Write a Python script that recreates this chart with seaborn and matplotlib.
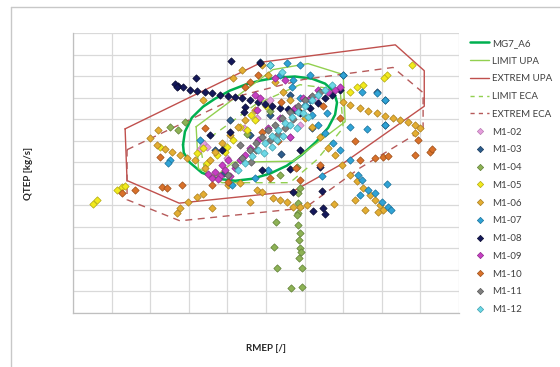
import matplotlib
matplotlib.use("Agg")
import matplotlib.pyplot as plt
from matplotlib.lines import Line2D
import pandas as pd
import seaborn as sns

# boundary curves (grid units, axes have no tick labels)
mg7_x = [2.85, 2.9, 3.08, 3.37, 3.68, 4.07, 4.46, 4.84, 5.28, 5.75, 6.19, 6.53, 6.76, 6.84, 6.79,
         6.61, 6.3, 5.93, 5.54, 5.1, 4.64, 4.2, 3.76, 3.34, 3.03, 2.87, 2.85]
mg7_y = [7.81, 8.42, 9.07, 9.58, 9.95, 10.33, 10.6, 10.79, 10.93, 10.98, 10.88, 10.65, 10.28, 9.77, 9.21,
         8.6, 7.95, 7.35, 6.84, 6.47, 6.23, 6.14, 6.23, 6.51, 6.98, 7.44, 7.81]

limit_upa_x = [3.19, 5.18, 6.09, 7.0, 7.05, 5.7, 4.15, 3.7, 3.25, 3.19]
limit_upa_y = [8.65, 11.3, 11.58, 11.07, 8.88, 7.05, 7.0, 6.35, 6.7, 8.65]

extrem_upa_x = [1.35, 4.9, 8.35, 9.1, 9.1, 7.0, 5.7, 2.75, 1.4, 1.35]
extrem_upa_y = [8.55, 11.65, 12.45, 11.25, 9.6, 6.95, 5.65, 5.1, 6.15, 8.55]

limit_eca_x = [3.29, 4.72, 5.88, 6.92, 7.0, 6.32, 5.62, 3.86, 3.42, 3.29]
limit_eca_y = [7.81, 9.67, 10.6, 10.37, 8.6, 7.12, 6.05, 6.05, 6.56, 7.81]

extrem_eca_x = [1.4, 4.33, 5.96, 8.29, 9.07, 9.07, 7.44, 6.01, 2.77, 1.4, 1.4]
extrem_eca_y = [7.58, 10.09, 10.84, 11.4, 10.23, 8.51, 6.74, 4.88, 4.28, 5.26, 7.58]

# measured points per run
m1_02_x = [3.37, 3.47, 4.77, 4.43, 5.62, 5.88, 5.1, 3.3, 4.0, 6.3]
m1_02_y = [7.91, 7.72, 9.07, 8.6, 8.19, 8.74, 9.91, 7.6, 7.2, 9.9]

m1_03_x = [4.84, 7.0, 7.88, 8.08, 8.08, 4.07, 5.1, 4.59, 5.62, 3.68, 6.2, 5.4, 3.9]
m1_03_y = [11.67, 11.07, 10.28, 9.91, 8.74, 8.98, 9.21, 8.28, 10.14, 7.58, 8.6, 7.4, 6.5]

m1_04_x = [5.83, 5.83, 5.88, 5.88, 5.91, 5.85, 5.93, 5.93, 5.65, 5.28, 5.21, 5.26, 5.8, 5.85, 5.83,
           5.83, 5.88, 2.51, 2.9, 2.72, 5.8, 5.36, 3.9, 4.5, 5.1]
m1_04_y = [5.58, 4.65, 3.72, 3.02, 2.84, 2.56, 2.09, 1.21, 1.16, 2.09, 3.07, 4.23, 4.56, 3.4, 4.09,
           5.12, 5.81, 8.65, 8.88, 8.51, 6.79, 6.42, 7.6, 8.3, 9.4]

m1_05_x = [0.52, 0.62, 1.14, 1.27, 1.35, 8.78, 8.13, 8.05, 7.18, 7.36, 7.51, 2.25, 3.47, 3.73, 3.99,
           4.15, 4.33, 4.51, 3.21, 3.37, 4.72, 3.94, 4.6, 5.0]
m1_05_y = [5.07, 5.26, 5.72, 5.86, 5.91, 11.53, 11.07, 10.93, 10.28, 10.47, 10.6, 7.72, 6.98, 7.35, 7.72,
           8.05, 8.65, 8.51, 7.44, 7.67, 8.98, 7.49, 9.2, 9.6]

m1_06_x = [4.9, 5.05, 5.23, 5.44, 5.62, 5.83, 6.01, 6.19, 6.4, 6.61, 6.79, 6.97, 7.18, 7.36, 7.51, 7.69,
           7.82, 7.95, 8.03, 7.9, 7.31, 7.56,
           7.0, 7.18, 7.44, 7.64, 7.88, 8.08, 8.29, 8.47, 8.68, 8.86, 8.99, 8.86,
           1.99, 2.18, 2.38, 2.56, 2.77, 2.95, 3.16,
           2.69, 2.77, 2.98, 3.21, 3.37, 3.6, 4.59, 4.77, 4.9, 5.18, 5.36, 5.54, 5.7, 5.88, 6.06, 6.76,
           4.33, 4.02,
           3.37, 4.15, 4.38, 2.2,
           3.42, 3.55, 3.68, 3.86, 4.07, 4.27, 4.46, 4.72]
m1_06_y = [11.53, 11.07, 10.74, 10.28, 9.91, 9.44, 9.07, 8.65, 8.19, 7.67, 7.35, 6.88, 6.42, 6.14, 5.81,
           5.49, 5.26, 5.02, 4.79, 4.7, 5.26, 4.79,
           9.81, 9.67, 9.53, 9.4, 9.3, 9.16, 9.07, 8.98, 8.88, 8.74, 8.6, 8.37,
           8.14, 7.81, 7.63, 7.49, 7.35, 7.21, 7.12,
           4.65, 4.88, 5.16, 5.4, 5.53, 4.88, 5.16, 5.72, 5.63, 5.35, 5.26, 5.16, 4.93, 4.93, 5.02, 5.07,
           6.05, 5.95,
           9.91, 10.93, 11.3, 8.51,
           6.74, 7.12, 7.49, 7.91, 8.28, 8.65, 8.98, 9.44]

m1_07_x = [5.1, 5.36, 5.67, 5.88, 6.01, 6.19, 6.35, 6.53, 6.74, 6.92, 7.18, 7.38, 7.49, 7.64, 7.82, 8.0,
           8.16, 8.24, 8.13, 7.44, 6.45,
           5.54, 7.88, 8.08, 7.49, 7.18, 7.62, 8.08, 6.58, 5.88, 2.51, 2.46, 4.12, 4.72, 5.05, 3.29,
           6.14, 7.0, 5.7, 6.14]
m1_07_y = [11.53, 11.07, 10.47, 10.0, 9.67, 9.21, 8.74, 8.37, 7.91, 7.58, 7.12, 6.42, 6.19, 5.72, 5.58,
           5.16, 4.93, 4.79, 6.0, 5.49, 6.37,
           11.63, 10.23, 9.91, 10.28, 8.65, 8.56, 8.74, 9.3, 11.53, 7.12, 6.98, 5.95, 6.28, 6.65, 8.05,
           9.91, 11.07, 10.84, 11.07]

m1_08_x = [2.72, 2.85, 3.03, 3.21, 3.42, 3.6, 3.81, 4.02, 4.2, 4.38, 4.59, 4.79, 4.97, 5.16, 5.36, 5.57,
           5.75, 4.46, 4.43,
           5.88, 6.14, 6.35, 6.53, 6.71, 6.92,
           4.09, 3.19, 4.84, 5.7, 6.22, 6.48, 6.53, 6.45, 6.4, 5.62, 4.07, 3.55, 3.86, 4.9, 5.88, 2.65, 2.7]
m1_08_y = [10.56, 10.47, 10.37, 10.33, 10.28, 10.23, 10.14, 10.09, 10.05, 10.0, 9.91, 9.81, 9.72, 9.63,
           9.53, 9.49, 9.44, 9.58, 9.35,
           9.3, 9.53, 9.77, 10.0, 10.14, 10.37,
           11.72, 10.93, 11.63, 5.63, 4.74, 4.88, 4.6, 5.67, 6.79, 6.7, 8.42, 8.28, 7.58, 6.65, 7.58,
           10.65, 10.5]

m1_09_x = [3.68, 3.81, 3.94, 4.07, 4.2, 3.86, 4.33, 3.6, 4.02, 4.46, 4.59, 4.79, 5.05, 5.36, 5.75, 6.14,
           6.61, 6.92, 6.35, 5.23, 5.49, 4.72, 4.77, 4.84, 5.95, 6.8, 5.62, 3.75, 3.5]
m1_09_y = [6.56, 6.37, 6.65, 6.37, 6.74, 6.88, 7.12, 6.28, 7.12, 7.35, 7.67, 8.05, 8.6, 9.07, 9.53, 10.0,
           10.28, 10.47, 10.37, 10.93, 10.84, 10.14, 9.44, 10.0, 10.0, 10.37, 8.19, 6.2, 6.45]

m1_10_x = [9.25, 8.86, 8.03, 7.82, 7.44, 6.92, 8.94, 2.31, 2.44, 2.82, 1.61, 1.27, 2.25, 3.42, 4.46,
           4.59, 4.79, 3.6, 4.02, 5.78, 5.88, 5.1, 6.4, 6.48, 8.15, 9.3, 5.3, 4.9, 5.4, 7.3]
m1_10_y = [7.49, 7.35, 7.26, 7.21, 7.12, 9.07, 8.05, 5.86, 5.81, 5.95, 5.72, 5.58, 7.26, 8.6, 10.47,
           10.74, 11.07, 5.95, 6.09, 6.74, 6.19, 6.28, 6.88, 9.6, 7.3, 7.6, 8.0, 8.4, 9.8, 8.0]

m1_11_x = [4.02, 4.2, 4.38, 4.59, 4.74, 4.9, 5.05, 5.23, 5.41, 5.62, 5.83, 6.01, 6.19, 6.4, 4.74, 5.1,
           5.49, 4.33, 4.6, 5.3, 5.7]
m1_11_y = [6.42, 6.88, 7.21, 7.58, 7.91, 8.19, 8.51, 8.74, 9.07, 9.35, 9.63, 9.91, 10.09, 10.28, 7.58,
           8.05, 8.6, 7.81, 7.0, 8.3, 9.0]

m1_12_x = [4.27, 4.46, 4.64, 4.79, 4.97, 5.16, 5.31, 5.49, 5.67, 5.83, 6.01, 6.19, 6.35, 6.53, 6.71,
           4.95, 5.28, 5.62, 5.96, 5.1, 5.41, 5.15, 5.45, 5.8, 6.1]
m1_12_y = [6.65, 6.98, 7.3, 7.58, 7.91, 8.23, 8.51, 8.84, 9.12, 9.35, 9.63, 9.91, 10.14, 10.37, 10.6,
           7.44, 8.05, 8.74, 9.3, 11.53, 11.21, 7.7, 8.2, 8.6, 9.1]

runs = {
    "M1-02": (m1_02_x, m1_02_y, "#E59EDD", "#B878B0"),
    "M1-03": (m1_03_x, m1_03_y, "#2D5D8C", "#1A3A5C"),
    "M1-04": (m1_04_x, m1_04_y, "#8DB255", "#5E7E34"),
    "M1-05": (m1_05_x, m1_05_y, "#F2EA1C", "#B0A810"),
    "M1-06": (m1_06_x, m1_06_y, "#E4AE32", "#A87C1C"),
    "M1-07": (m1_07_x, m1_07_y, "#2FA3D6", "#1A7098"),
    "M1-08": (m1_08_x, m1_08_y, "#14185A", "#0A0C30"),
    "M1-09": (m1_09_x, m1_09_y, "#C73FC3", "#8C2A8A"),
    "M1-10": (m1_10_x, m1_10_y, "#D9712A", "#9C4E18"),
    "M1-11": (m1_11_x, m1_11_y, "#7F7F7F", "#555555"),
    "M1-12": (m1_12_x, m1_12_y, "#6DD8E6", "#3FA0AE"),
}

sns.set_style("white")
plt.rcParams["font.family"] = ["Lato", "DejaVu Sans"]

fig = plt.figure(figsize=(5.6, 3.67), dpi=100)
ax = fig.add_axes([73 / 560, 1 - 313 / 367, 386 / 560, 280 / 367])

ax.set_xlim(0, 10)
ax.set_ylim(0, 13)
ax.set_xticks(range(0, 11))
ax.set_yticks(range(0, 14))
ax.set_xticklabels([])
ax.set_yticklabels([])
ax.grid(True, color="#D9D9D9", linewidth=0.9)
ax.tick_params(axis="both", length=3, color="#BFBFBF", direction="out")
for side in ["top", "right"]:
    ax.spines[side].set_visible(False)
for side in ["left", "bottom"]:
    ax.spines[side].set_color("#BFBFBF")
    ax.spines[side].set_linewidth(0.9)

ax.plot(mg7_x, mg7_y, color="#00B050", lw=1.8, zorder=2)
ax.plot(limit_upa_x, limit_upa_y, color="#92D050", lw=1.0, zorder=2)
ax.plot(extrem_upa_x, extrem_upa_y, color="#C0504D", lw=1.0, zorder=2)
ax.plot(limit_eca_x, limit_eca_y, color="#92D050", lw=1.0, ls=(0, (5, 4)), zorder=2)
ax.plot(extrem_eca_x, extrem_eca_y, color="#B65A5A", lw=1.0, ls=(0, (5, 4)), zorder=2)

for name, (xs, ys, col, edge) in runs.items():
    df = pd.DataFrame({"RMEP": xs, "QTEP": ys})
    sns.scatterplot(data=df, x="RMEP", y="QTEP", ax=ax, marker="D", s=14,
                    color=col, edgecolor=edge, linewidth=0.5, zorder=3, legend=False)

ax.set_xlabel("RMEP [/]", fontsize=7, fontweight="bold", labelpad=16)
ax.set_ylabel("QTEP [kg/s]", fontsize=7, fontweight="bold", labelpad=22)

handles = [
    Line2D([], [], color="#00B050", lw=1.8),
    Line2D([], [], color="#92D050", lw=1.0),
    Line2D([], [], color="#C0504D", lw=1.0),
    Line2D([], [], color="#92D050", lw=1.0, ls=(0, (3, 3))),
    Line2D([], [], color="#B65A5A", lw=1.0, ls=(0, (3, 3))),
]
labels = ["MG7_A6", "LIMIT UPA", "EXTREM UPA", "LIMIT ECA", "EXTREM ECA"]
for name, (xs, ys, col, edge) in runs.items():
    handles.append(Line2D([], [], ls="none", marker="D", markersize=3.2,
                          markerfacecolor=col, markeredgecolor=edge, markeredgewidth=0.5))
    labels.append(name)

fig.legend(handles, labels, loc="upper left", bbox_to_anchor=(466 / 560, 1 - 35 / 367),
           frameon=False, fontsize=7, handlelength=2.0, handletextpad=0.3,
           labelspacing=0.90, borderaxespad=0, labelcolor="#404040")

# outer chart frame
fig.add_artist(Line2D([11 / 560, 11 / 560], [0, 1 - 7 / 367], color="#C8C8C8", lw=1.0))
fig.add_artist(Line2D([11 / 560, 1], [1 - 7 / 367, 1 - 7 / 367], color="#C8C8C8", lw=1.0))

fig.savefig("out.png", dpi=100)
